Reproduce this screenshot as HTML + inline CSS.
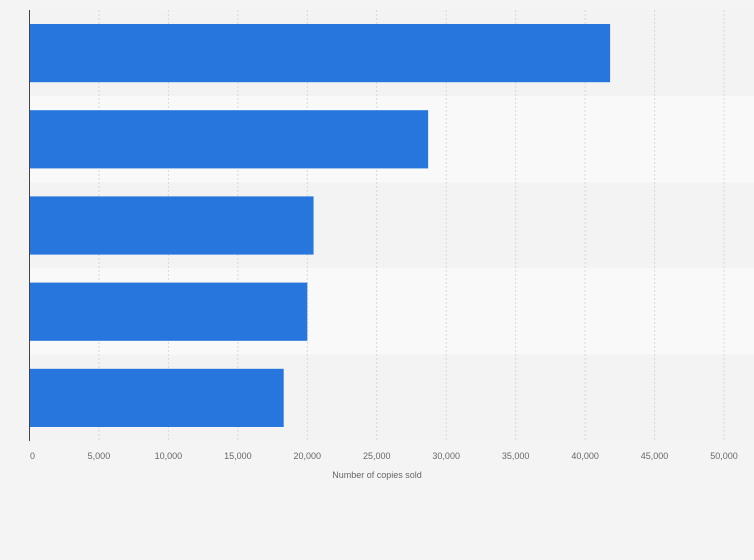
<!DOCTYPE html>
<html><head><meta charset="utf-8"><style>
html,body{margin:0;padding:0;background:#f4f4f4;font-family:"Liberation Sans",sans-serif;overflow:hidden}
svg{display:block}
</style></head><body>
<svg id="chart" width="754" height="560" xmlns="http://www.w3.org/2000/svg">
<rect width="754" height="560" fill="#f4f4f4"/>
<g id="bands"></g><g id="grid"></g><g id="bars"></g><g id="ticks"></g>
<line x1="29.5" y1="10" x2="29.5" y2="441" stroke="#444" stroke-width="1"/>
<text x="377" y="478" font-size="9" fill="#666" text-anchor="middle">Number of copies sold</text>
</svg>
<script>
const categories=["Item 1","Item 2","Item 3","Item 4","Item 5"];
const values=[41800,28700,20450,20000,18300];
const tickValues=[0,5000,10000,15000,20000,25000,30000,35000,40000,45000,50000];
const tickLabels=["0","5,000","10,000","15,000","20,000","25,000","30,000","35,000","40,000","45,000","50,000"];
const NS="http://www.w3.org/2000/svg";
const x0=29.5,x1=724,xMax=50000,yTop=10,yBottom=441;
const xs=v=>x0+(x1-x0)*v/xMax;
const band=(yBottom-yTop)/categories.length;
function mk(t,a,p){const e=document.createElementNS(NS,t);for(const k in a)e.setAttribute(k,a[k]);document.getElementById(p).appendChild(e);return e;}
categories.forEach((c,i)=>{
  const b=mk("rect",{x:x0,y:yTop+i*band,width:754-x0,height:band,fill:i%2?"#f9f9f9":"#f3f3f3"},"bands");
  
  
});
tickValues.forEach((v,i)=>{
  if(v>0){const g=mk("line",{x1:xs(v),x2:xs(v),y1:yTop,y2:yBottom,stroke:"#d8d8d8","stroke-dasharray":"2,2"},"grid");
  
  }
  const t=mk("text",{x:v===0?x0+3:xs(v),y:459,"font-size":"9",fill:"#666","text-anchor":"middle"},"ticks");
  t.textContent=tickLabels[i];
  
  
});
values.forEach((v,i)=>{
  const r=mk("rect",{x:x0+0.5,y:yTop+i*band+14,width:xs(v)-x0-0.5,height:band-28,fill:"#2776dd"},"bars");
  
  
});
</script>
</body></html>
